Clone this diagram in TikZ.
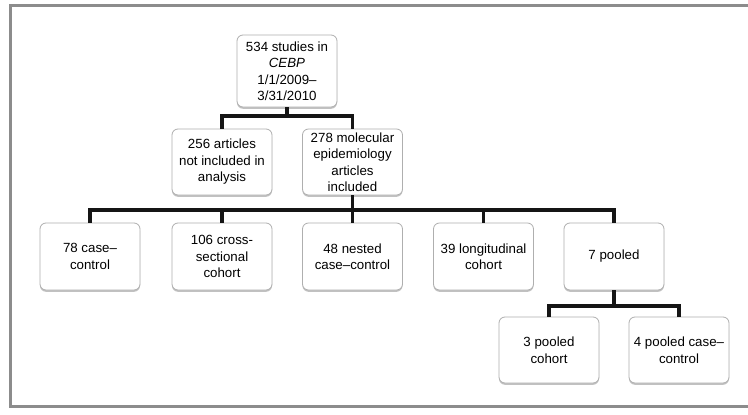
\documentclass[tikz,border=0pt]{standalone}
\usepackage{fontspec}
\setmainfont{Liberation Sans}
\usetikzlibrary{shadows}
\definecolor{framegray}{HTML}{8C8C8C}
\definecolor{boxgray}{HTML}{AFAFAF}
\definecolor{conncol}{HTML}{151515}
\tikzset{
  box/.style={draw=boxgray, line width=0.8pt, fill=white, rounded corners=6pt,
    minimum width=100pt, minimum height=66pt, align=center, inner sep=2pt,
    font=\fontsize{13.3}{16.5}\selectfont,
    drop shadow={shadow xshift=0pt, shadow yshift=-1.8pt, opacity=0.4, fill=black!60}},
  conn/.style={draw=conncol, line width=3.3pt, line join=miter},
  framel/.style={draw=framegray, line width=3pt}
}
\begin{document}
\begin{tikzpicture}[x=1pt, y=-1pt]
\useasboundingbox (0,0) rectangle (748,415);
\clip (0,0) rectangle (748,415);
\fill[white] (0,0) rectangle (748,415);
\draw[framel] (760,5.5) -- (10.5,5.5) -- (10.5,406) -- (760,406);

\node[box, minimum height=72pt] (top) at (287,71) {534 studies in\\ \textit{CEBP}\\ 1/1/2009–\\ 3/31/2010};
\node[box] (n256) at (222,162) {256 articles\\ not included in\\ analysis};
\node[box] (n278) at (352.5,162) {278 molecular\\ epidemiology\\ articles\\ included};

\node[box, minimum height=67pt] (c78) at (90,256.5) {78 case–\\ control};
\node[box, minimum height=67pt] (c106) at (222,256.5) {106 cross-\\ sectional\\ cohort};
\node[box, minimum height=67pt] (c48) at (352.5,256.5) {48 nested\\ case–control};
\node[box, minimum height=67pt] (c39) at (483.5,256.5) {39 longitudinal\\ cohort};
\node[box, minimum height=67pt] (c7) at (614,256.5) {7 pooled};

\node[box] (p3) at (549,350) {3 pooled\\ cohort};
\node[box] (p4) at (679,350) {4 pooled case–\\ control};

\coordinate (j1) at (287,116);
\coordinate (j2) at (352.5,210);
\coordinate (j3) at (614,306);

\draw[conn] (top.south) -- (j1);
\draw[conn] (n256.north) |- (j1) -| (n278.north);

\draw[conn] (n278.south) -- (j2);
\draw[conn] (c78.north) |- (j2) -| (c7.north);
\draw[conn] (c106.north) -- (c106.north |- j2);
\draw[conn] (c48.north) -- (j2);
\draw[conn] (c39.north) -- (c39.north |- j2);

\draw[conn] (c7.south) -- (j3);
\draw[conn] (p3.north) |- (j3) -| (p4.north);
\end{tikzpicture}
\end{document}
